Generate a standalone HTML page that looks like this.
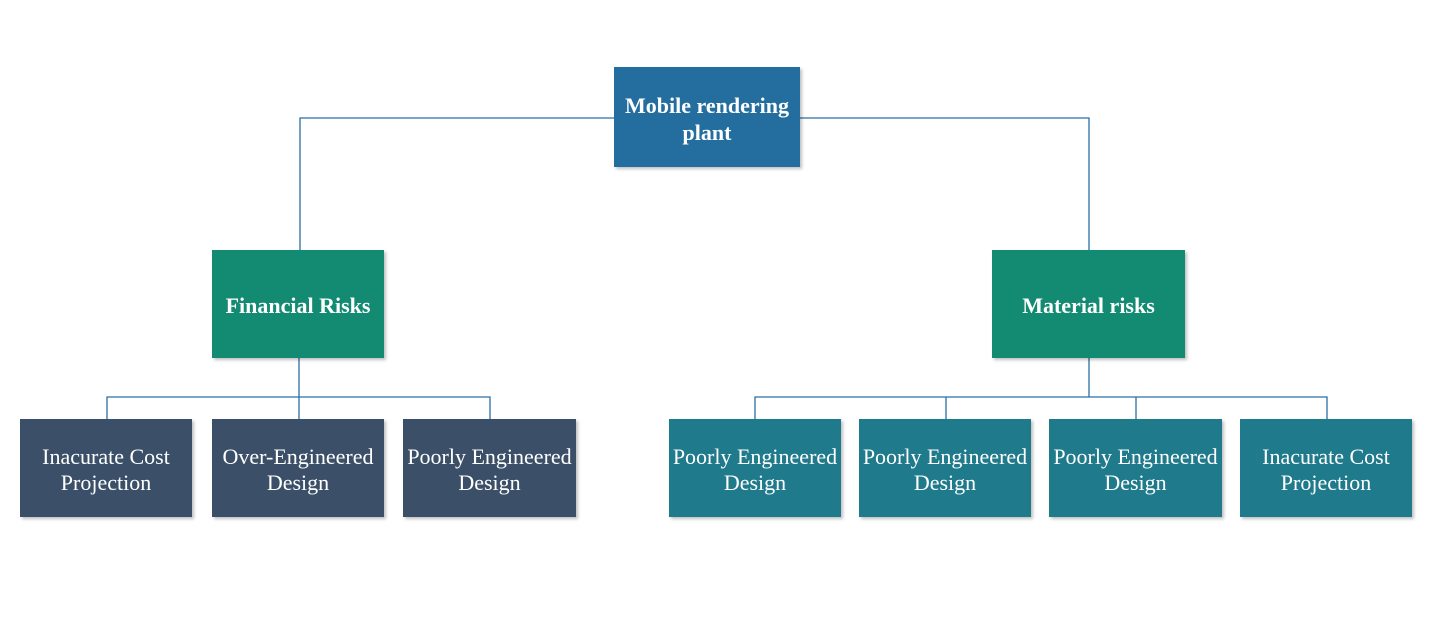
<!DOCTYPE html>
<html><head><style>
body{margin:0;width:1429px;height:635px;background:#fff;position:relative;font-family:"Liberation Serif",serif;overflow:hidden}
.b{position:absolute;display:flex;align-items:center;justify-content:center;text-align:center;color:#fff;font-size:22px;line-height:26px;box-shadow:2px 2px 3px rgba(0,0,0,.25);white-space:nowrap;box-sizing:border-box;padding-top:3px}
.h{font-weight:bold;line-height:27px}
.r{background:#236e9e}.m{background:#138a72}.l{background:#3b5068}.t{background:#1f7a8c}
svg{position:absolute;left:0;top:0}
</style></head><body>
<svg width="1429" height="635"><g stroke="#2a6fa5" stroke-width="1.3" fill="none">
<path d="M614 118H300V250M800 118H1089V250"/>
<path d="M299 358V419M107 419V397H490V419"/>
<path d="M1089 358V397M755 419V397H1327V419M946 397V419M1136 397V419"/>
</g></svg>
<div class="b r h" style="left:614px;top:67px;width:186px;height:100px">Mobile rendering<br>plant</div>
<div class="b m h" style="left:212px;top:250px;width:172px;height:108px">Financial Risks</div>
<div class="b m h" style="left:992px;top:250px;width:193px;height:108px">Material risks</div>
<div class="b l" style="left:20px;top:419px;width:172px;height:98px">Inacurate Cost<br>Projection</div>
<div class="b l" style="left:212px;top:419px;width:172px;height:98px">Over-Engineered<br>Design</div>
<div class="b l" style="left:403px;top:419px;width:173px;height:98px">Poorly Engineered<br>Design</div>
<div class="b t" style="left:669px;top:419px;width:172px;height:98px">Poorly Engineered<br>Design</div>
<div class="b t" style="left:859px;top:419px;width:172px;height:98px">Poorly Engineered<br>Design</div>
<div class="b t" style="left:1049px;top:419px;width:173px;height:98px">Poorly Engineered<br>Design</div>
<div class="b t" style="left:1240px;top:419px;width:172px;height:98px">Inacurate Cost<br>Projection</div>
</body></html>
